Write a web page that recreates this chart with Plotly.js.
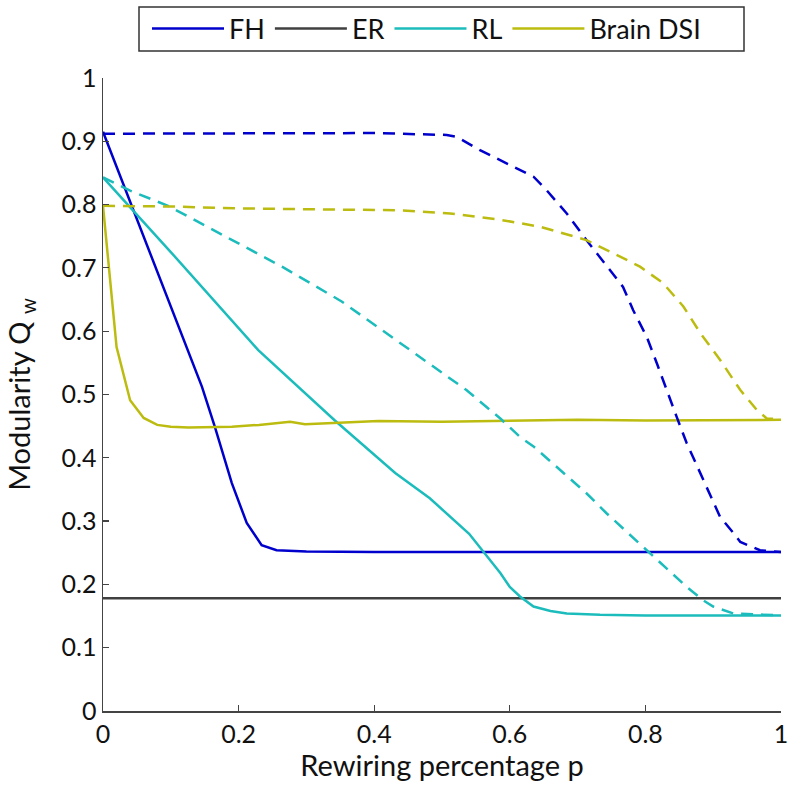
<!DOCTYPE html>
<html>
<head>
<meta charset="utf-8">
<script src="https://cdn.plot.ly/plotly-3.0.1.min.js"></script>
<style>html,body{margin:0;padding:0;background:#fff;}#chart{width:790px;height:789px;}</style>
</head>
<body>
<div id="chart"></div>
<script>
// Rewiring percentage p and modularity Qw
const fhSolidP = [0, 0.04, 0.08, 0.12, 0.146, 0.165, 0.19, 0.212, 0.234, 0.256, 0.3, 0.4, 0.5, 0.6, 0.7, 0.8, 0.9, 1];
const fhSolidQ = [0.915, 0.805, 0.695, 0.585, 0.512, 0.449, 0.36, 0.297, 0.262, 0.254, 0.252, 0.251, 0.251, 0.252, 0.251, 0.251, 0.252, 0.251];

const fhDashP = [0, 0.2, 0.4, 0.507, 0.522, 0.556, 0.595, 0.635, 0.654, 0.684, 0.713, 0.743, 0.767, 0.782, 0.802, 0.817, 0.831, 0.846, 0.861, 0.877, 0.895, 0.91, 0.93, 0.94, 0.969, 1];
const fhDashQ = [0.912, 0.912, 0.913, 0.91, 0.907, 0.886, 0.865, 0.844, 0.823, 0.786, 0.744, 0.702, 0.67, 0.633, 0.591, 0.549, 0.507, 0.465, 0.423, 0.386, 0.344, 0.307, 0.281, 0.267, 0.254, 0.251];

const erP = [0, 0.2, 0.4, 0.6, 0.8, 1];
const erQ = [0.178, 0.178, 0.178, 0.178, 0.178, 0.178];

const rlSolidP = [0, 0.1, 0.229, 0.342, 0.431, 0.482, 0.54, 0.586, 0.6, 0.615, 0.635, 0.66, 0.684, 0.733, 0.8, 0.9, 1];
const rlSolidQ = [0.843, 0.725, 0.57, 0.459, 0.376, 0.336, 0.28, 0.218, 0.196, 0.181, 0.165, 0.158, 0.154, 0.152, 0.151, 0.151, 0.151];

const rlDashP = [0, 0.04, 0.096, 0.264, 0.352, 0.438, 0.487, 0.536, 0.586, 0.615, 0.635, 0.684, 0.713, 0.743, 0.802, 0.861, 0.885, 0.9, 0.93, 1];
const rlDashQ = [0.843, 0.822, 0.798, 0.702, 0.647, 0.581, 0.544, 0.507, 0.462, 0.433, 0.418, 0.372, 0.344, 0.312, 0.254, 0.196, 0.175, 0.165, 0.154, 0.151];

const dsiSolidP = [0, 0.02, 0.04, 0.06, 0.08, 0.1, 0.126, 0.16, 0.19, 0.23, 0.276, 0.298, 0.35, 0.406, 0.5, 0.6, 0.7, 0.8, 0.9, 1];
const dsiSolidQ = [0.798, 0.575, 0.491, 0.463, 0.452, 0.449, 0.448, 0.449, 0.449, 0.452, 0.457, 0.453, 0.455, 0.458, 0.457, 0.458, 0.46, 0.459, 0.459, 0.46];

const dsiDashP = [0, 0.1, 0.2, 0.3, 0.438, 0.512, 0.586, 0.645, 0.713, 0.753, 0.792, 0.826, 0.856, 0.881, 0.91, 0.94, 0.964, 0.979, 1];
const dsiDashQ = [0.798, 0.797, 0.794, 0.793, 0.791, 0.786, 0.776, 0.765, 0.744, 0.723, 0.702, 0.676, 0.639, 0.597, 0.555, 0.507, 0.476, 0.462, 0.461];

const names = ['FH', 'ER', 'RL', 'Brain DSI'];
const colors = ['#0000cc', '#404040', '#1cbcbc', '#bcbc10'];
const xTicks = [0, 0.2, 0.4, 0.6, 0.8, 1];
const xTickText = ['0', '0.2', '0.4', '0.6', '0.8', '1'];
const yTicks = [0, 0.1, 0.2, 0.3, 0.4, 0.5, 0.6, 0.7, 0.8, 0.9, 1];
const yTickText = ['0', '0.1', '0.2', '0.3', '0.4', '0.5', '0.6', '0.7', '0.8', '0.9', '1'];

const LW = 2.5;
const DASH = '12px,8px';
const FONT = 'Lato, "Open Sans", sans-serif';

const traces = [
  {x: fhSolidP, y: fhSolidQ, name: names[0], legendgroup: 'fh', line: {color: colors[0], width: LW}},
  {x: erP, y: erQ, name: names[1], legendgroup: 'er', line: {color: colors[1], width: LW}},
  {x: rlSolidP, y: rlSolidQ, name: names[2], legendgroup: 'rl', line: {color: colors[2], width: LW}},
  {x: dsiSolidP, y: dsiSolidQ, name: names[3], legendgroup: 'dsi', line: {color: colors[3], width: LW}},
  {x: fhDashP, y: fhDashQ, name: names[0], legendgroup: 'fh', showlegend: false, line: {color: colors[0], width: LW, dash: DASH}},
  {x: rlDashP, y: rlDashQ, name: names[2], legendgroup: 'rl', showlegend: false, line: {color: colors[2], width: LW, dash: DASH}},
  {x: dsiDashP, y: dsiDashQ, name: names[3], legendgroup: 'dsi', showlegend: false, line: {color: colors[3], width: LW, dash: DASH}}
].map(t => Object.assign({type: 'scatter', mode: 'lines', hoverinfo: 'skip'}, t));

// plot area in pixels: x 103..781, y 78..711
const PL = 103, PR = 781, PT = 78, PB = 711;
const px2x = v => (v - PL) / (PR - PL);
const px2y = v => (PB - v) / (PB - PT);

const layout = {
  width: 790, height: 789,
  margin: {l: PL, r: 790 - PR, t: PT, b: 789 - PB},
  paper_bgcolor: '#fff', plot_bgcolor: '#fff',
  font: {family: FONT, size: 25, color: '#111'},
  showlegend: true,
  legend: {
    orientation: 'h', xref: 'container', yref: 'container',
    x: 147 / 790, y: 1 - 29 / 789, xanchor: 'left', yanchor: 'middle',
    borderwidth: 0, bgcolor: 'rgba(0,0,0,0)',
    font: {family: FONT, size: 27, color: '#111'},
    itemwidth: 72, tracegroupgap: 0
  },
  shapes: [{
    type: 'rect', xref: 'paper', yref: 'paper', layer: 'above',
    x0: px2x(139), x1: px2x(744), y0: px2y(51), y1: px2y(7),
    line: {color: '#333', width: 1.5}, fillcolor: 'rgba(0,0,0,0)'
  }],
  xaxis: {
    range: [0, 1], tickvals: xTicks, ticktext: xTickText,
    ticks: 'inside', ticklen: 6, tickwidth: 1.2, tickcolor: '#444',
    tickfont: {family: FONT, size: 25, color: '#111'},
    showline: true, linecolor: '#444', linewidth: 1.5, showgrid: false, zeroline: false,
    title: {text: 'Rewiring percentage p', standoff: 4, font: {family: FONT, size: 29, color: '#111'}},
    fixedrange: true
  },
  yaxis: {
    range: [0, 1], tickvals: yTicks, ticktext: yTickText,
    ticks: 'inside', ticklen: 6, tickwidth: 1.2, tickcolor: '#444',
    tickfont: {family: FONT, size: 25, color: '#111'},
    showline: true, linecolor: '#444', linewidth: 1.5, showgrid: false, zeroline: false,
    title: {text: 'Modularity Q <sub>w</sub>', standoff: 22, font: {family: FONT, size: 29, color: '#111'}},
    fixedrange: true
  }
};

Plotly.newPlot('chart', traces, layout, {staticPlot: true, displayModeBar: false});
</script>
</body>
</html>
